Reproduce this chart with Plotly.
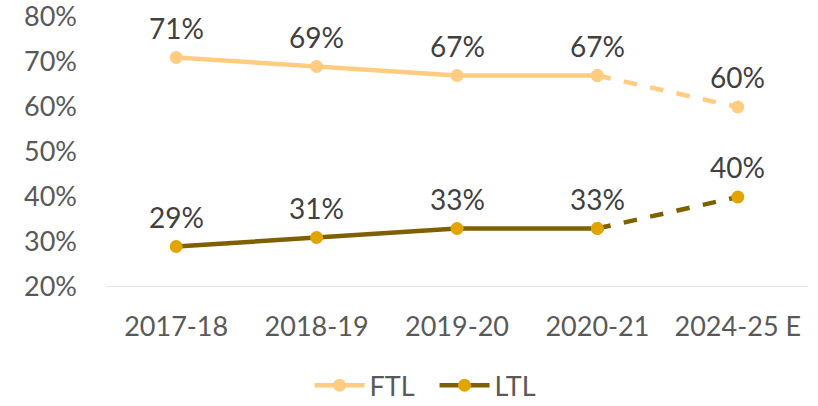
import plotly.graph_objects as go

categories = ["2017-18", "2018-19", "2019-20", "2020-21", "2024-25 E"]
ftl = [71, 69, 67, 67, 60]
ltl = [29, 31, 33, 33, 40]
y_ticks = [20, 30, 40, 50, 60, 70, 80]

FTL_COLOR = "#FFCC80"
LTL_LINE = "#7F6000"
LTL_MARK = "#E2A500"
FONT = "Lato"

fig = go.Figure()

def add_series(name, vals, line_color, marker_color):
    # solid part (actuals)
    fig.add_trace(go.Scatter(
        x=categories[:4], y=vals[:4], mode="lines+markers", name=name,
        line=dict(color=line_color, width=4.5),
        marker=dict(color=marker_color, size=13),
        legendgroup=name, showlegend=True,
    ))
    # dashed part (estimate)
    fig.add_trace(go.Scatter(
        x=categories[3:], y=vals[3:], mode="lines+markers", name=name,
        line=dict(color=line_color, width=4.5, dash="dash"),
        marker=dict(color=marker_color, size=13),
        legendgroup=name, showlegend=False,
    ))
    for c, v in zip(categories, vals):
        fig.add_annotation(x=c, y=v, text=f"{v}%", showarrow=False,
                           yshift=30, font=dict(family=FONT, size=28, color="#404040"))

add_series("FTL", ftl, FTL_COLOR, FTL_COLOR)
add_series("LTL", ltl, LTL_LINE, LTL_MARK)

fig.update_layout(
    width=818, height=406,
    margin=dict(l=106, r=10, t=17, b=119, autoexpand=False),
    paper_bgcolor="white", plot_bgcolor="white",
    font=dict(family=FONT, size=27, color="#595959"),
    showlegend=True,
    legend=dict(orientation="h", x=0.468, xanchor="center", yref="container",
                y=0.05, yanchor="middle", itemwidth=50, entrywidth=60,
                font=dict(family=FONT, size=27, color="#595959")),
)
fig.update_xaxes(
    type="category", categoryorder="array", categoryarray=categories,
    range=[-0.5, 4.5],
    showgrid=False, showline=False, ticks="", zeroline=False,
    ticklabelstandoff=21,
    tickfont=dict(family=FONT, size=27, color="#595959"),
)
fig.update_yaxes(
    range=[20, 80], tickvals=y_ticks, ticktext=[f"{t}%" for t in y_ticks],
    showgrid=False, zeroline=False, showline=False, ticks="",
    ticklabelstandoff=28, ticklabeloverflow="allow",
    tickfont=dict(family=FONT, size=27, color="#595959"),
)
fig.add_shape(type="line", xref="paper", yref="y", x0=0, x1=1, y0=20, y1=20,
              line=dict(color="#D9D9D9", width=1.5), layer="below")

fig.write_html("out.html", config={"displayModeBar": False},
               post_script="document.body.style.margin='0px';")
